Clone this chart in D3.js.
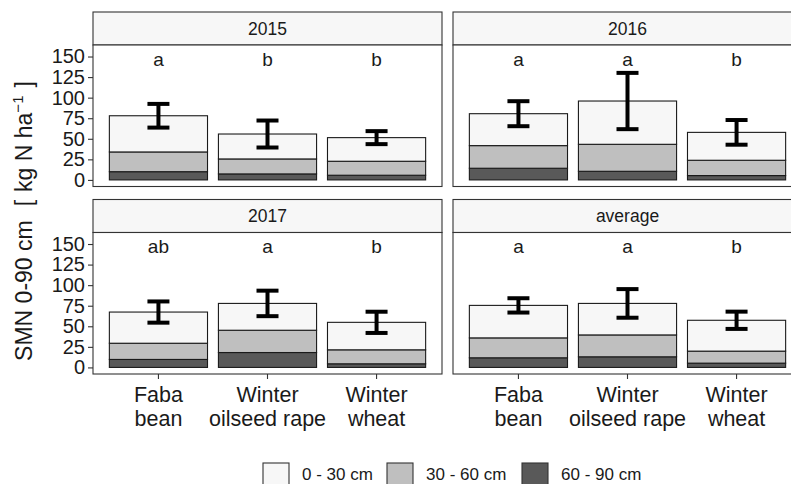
<!DOCTYPE html>
<html><head><meta charset="utf-8">
<script src="https://cdn.jsdelivr.net/npm/d3@7/dist/d3.min.js"></script>
<style>body{margin:0;background:#fff;}svg{display:block;font-family:"Liberation Sans",Arial,sans-serif;}</style>
</head><body>
<svg id="chart" width="791" height="484"></svg>
<script>
// ---- data ----
const panels = ["2015", "2016", "2017", "average"];
const crops = ["Faba bean", "Winter oilseed rape", "Winter wheat"];
const cropLines = [["Faba", "bean"], ["Winter", "oilseed rape"], ["Winter", "wheat"]];
const layers = ["0 - 30 cm", "30 - 60 cm", "60 - 90 cm"];
// layer amounts (kg N/ha) per panel, per crop
const layer0_30  = [[44.0, 30.3, 28.7], [38.8, 52.6, 33.9], [37.9, 32.6, 33.4], [39.5, 38.3, 37.5]];
const layer30_60 = [[24.0, 18.2, 17.0], [27.5, 32.8, 18.6], [19.7, 27.1, 17.0], [24.2, 26.6, 14.6]];
const layer60_90 = [[10.0,  7.3,  5.7], [14.2, 10.5,  5.3], [ 9.7, 18.1,  4.4], [11.7, 12.9,  5.2]];
const errHalf    = [[14.4, 16.4,  7.9], [15.2, 34.2, 15.0], [12.9, 15.5, 12.9], [ 8.7, 17.4, 10.5]];
const letters    = [["a", "b", "b"], ["a", "a", "b"], ["ab", "a", "b"], ["a", "a", "b"]];
const yTicks = [0, 25, 50, 75, 100, 125, 150];
const letterY = 139;

// ---- layout ----
const fills = {"0 - 30 cm": "#f7f7f7", "30 - 60 cm": "#bfbfbf", "60 - 90 cm": "#595959"};
const colX = [93, 453], panelW = 349;
const rowY = [45, 232.5], panelH = 141.5, stripH = 33;
const svg = d3.select("#chart");
// ggplot-like discrete axis: expansion 0.6 units each side, bar width 0.9
const x = d3.scalePoint().domain(crops).range([0.6 * panelW / 3.2, 2.6 * panelW / 3.2]);
const step = x.step();
const xc = c => x(c);
const y = d3.scaleLinear().domain([-8, 164]).range([panelH, 0]);

panels.forEach((p, pi) => {
  const col = pi % 2, row = Math.floor(pi / 2);
  const g = svg.append("g").attr("transform", `translate(${colX[col]},${rowY[row]})`);
  // strip
  g.append("rect").attr("x", 0).attr("y", -stripH).attr("width", panelW).attr("height", stripH)
    .attr("fill", "#f7f7f7").attr("stroke", "#333").attr("stroke-width", 1.1);
  g.append("text").attr("x", panelW / 2).attr("y", -stripH / 2).attr("dy", "0.36em")
    .attr("text-anchor", "middle").attr("font-size", 17.5).attr("fill", "#1a1a1a").text(p);
  // panel bg
  g.append("rect").attr("width", panelW).attr("height", panelH).attr("fill", "#fff");
  // bars
  crops.forEach((c, ci) => {
    const segs = [{k: "60 - 90 cm", v0: 0, v1: layer60_90[pi][ci]}];
    segs.push({k: "30 - 60 cm", v0: segs[0].v1, v1: segs[0].v1 + layer30_60[pi][ci]});
    segs.push({k: "0 - 30 cm", v0: segs[1].v1, v1: segs[1].v1 + layer0_30[pi][ci]});
    const bw = 0.9 * step;
    segs.forEach(s => {
      g.append("rect").attr("x", xc(c) - bw / 2).attr("width", bw)
        .attr("y", y(s.v1)).attr("height", y(s.v0) - y(s.v1))
        .attr("fill", fills[s.k]).attr("stroke", "#1a1a1a").attr("stroke-width", 1.1);
    });
    const tot = segs[2].v1, e = errHalf[pi][ci];
    const eg = g.append("g").attr("stroke", "#000").attr("stroke-width", 4).attr("fill", "none");
    eg.append("line").attr("x1", xc(c)).attr("x2", xc(c)).attr("y1", y(tot - e)).attr("y2", y(tot + e));
    [tot - e, tot + e].forEach(v => eg.append("line").attr("x1", xc(c) - 11).attr("x2", xc(c) + 11).attr("y1", y(v)).attr("y2", y(v)));
    g.append("text").attr("x", xc(c)).attr("y", y(letterY)).attr("text-anchor", "middle")
      .attr("font-size", 19).attr("fill", "#1a1a1a").text(letters[pi][ci]);
  });
  // border
  g.append("rect").attr("width", panelW).attr("height", panelH).attr("fill", "none")
    .attr("stroke", "#333").attr("stroke-width", 1.1);
  // y axis
  if (col === 0) {
    const ya = g.append("g").call(d3.axisLeft(y).tickValues(yTicks).tickSize(5).tickPadding(3));
    ya.select(".domain").remove();
    ya.selectAll("line").attr("stroke", "#333").attr("stroke-width", 1.1);
    ya.selectAll("text").attr("font-size", 20).attr("fill", "#1a1a1a").attr("font-family", "Liberation Sans, Arial, sans-serif");
  }
  // x axis
  if (row === 1) {
    const xa = g.append("g").attr("transform", `translate(0,${panelH})`);
    crops.forEach((c, ci) => {
      xa.append("line").attr("x1", xc(c)).attr("x2", xc(c)).attr("y1", 0).attr("y2", 5)
        .attr("stroke", "#333").attr("stroke-width", 1.1);
      const t = xa.append("text").attr("text-anchor", "middle").attr("font-size", 21.5).attr("fill", "#1a1a1a");
      cropLines[ci].forEach((ln, li) => t.append("tspan").attr("x", xc(c)).attr("y", 28 + li * 24).text(ln));
    });
  }
});

// y title
const yt = svg.append("text").attr("transform", "translate(32,221) rotate(-90)")
  .attr("text-anchor", "middle").attr("font-size", 23).attr("fill", "#1a1a1a");
yt.append("tspan").text("SMN 0-90 cm");
yt.append("tspan").attr("dx", 14).text("[");
yt.append("tspan").attr("dx", 8).text("kg N ha");
yt.append("tspan").attr("font-size", 15).attr("dy", -9).text("\u22121");
yt.append("tspan").attr("dy", 9).attr("dx", 8).text("]");

// legend
const legX = [263, 387, 522];
layers.forEach((l, i) => {
  svg.append("rect").attr("x", legX[i]).attr("y", 463).attr("width", 26).attr("height", 26)
    .attr("fill", fills[l]).attr("stroke", "#333").attr("stroke-width", 1.1);
  svg.append("text").attr("x", legX[i] + 39).attr("y", 479.5)
    .attr("font-size", 17).attr("fill", "#1a1a1a").text(l);
});
</script>
</body></html>
